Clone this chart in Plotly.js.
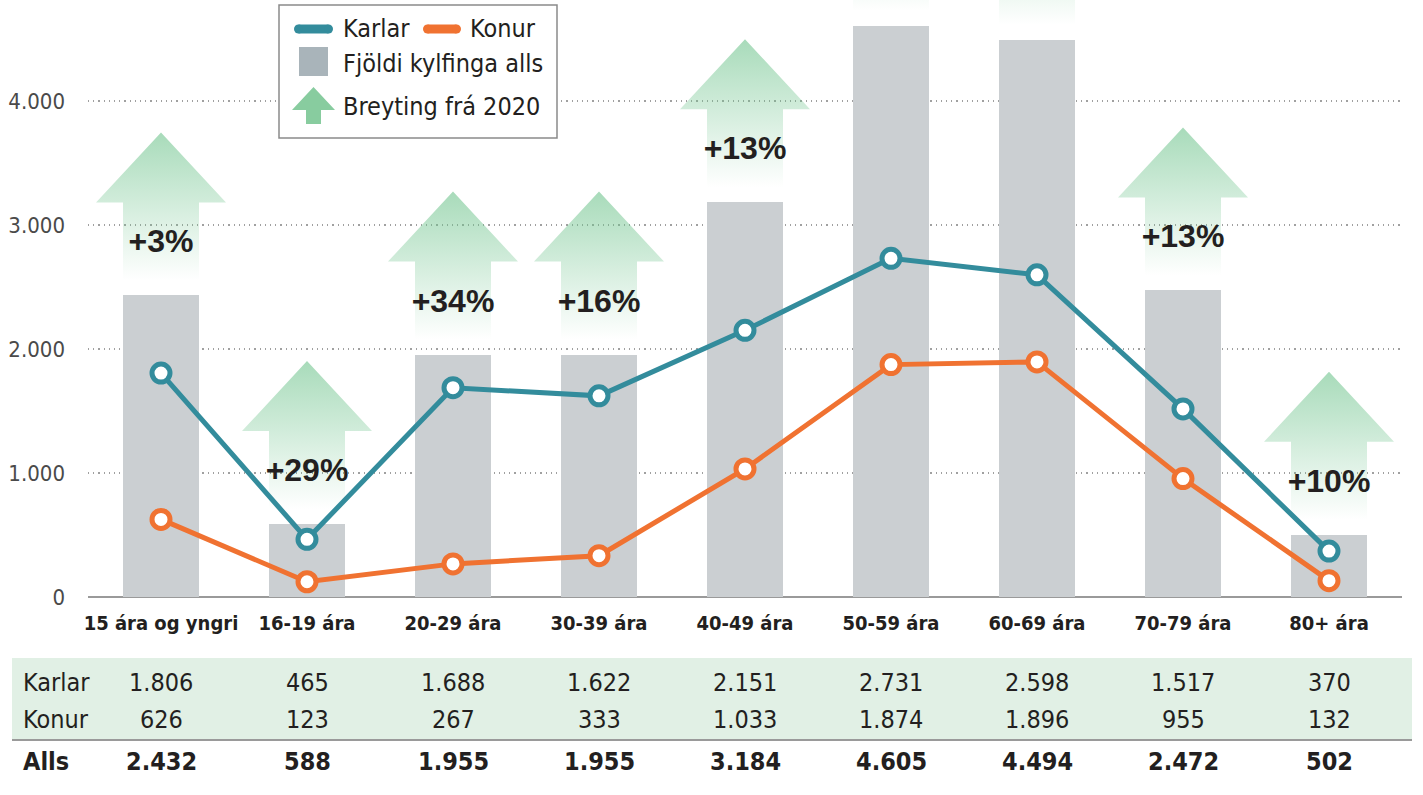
<!DOCTYPE html>
<html>
<head>
<meta charset="utf-8">
<script src="https://cdn.plot.ly/plotly-3.0.1.min.js"></script>
<style>
  html, body { margin: 0; padding: 0; background: #ffffff; }
  #chart { width: 1423px; height: 795px; }
</style>
</head>
<body>
<div id="chart"></div>
<script>
// ---------------- data ----------------
const categories = ['15 ára og yngri', '16-19 ára', '20-29 ára', '30-39 ára', '40-49 ára', '50-59 ára', '60-69 ára', '70-79 ára', '80+ ára'];
const karlar = [1806, 465, 1688, 1622, 2151, 2731, 2598, 1517, 370];
const konur  = [626, 123, 267, 333, 1033, 1874, 1896, 955, 132];
const alls   = [2432, 588, 1955, 1955, 3184, 4605, 4494, 2472, 502];
const breyting = ['+3%', '+29%', '+34%', '+16%', '+13%', '', '', '+13%', '+10%'];
const yTickVals = [0, 1000, 2000, 3000, 4000];
const yTickText = ['0', '1.000', '2.000', '3.000', '4.000'];
const rowLabels = ['Karlar', 'Konur', 'Alls'];
const legendLabels = ['Karlar', 'Konur', 'Fjöldi kylfinga alls', 'Breyting frá 2020'];

// ---------------- styling / geometry ----------------
const W = 1423, H = 795;
const PL = 88, PR = 1402, PB = 597;           // plot area in px
const PX_PER_1000 = 124;
const YMAX = PB * 1000 / PX_PER_1000;
const U = 1000 / PX_PER_1000;                  // data units per px (y)
const XU = 1 / ((PR - PL) / categories.length); // data units per px (x)
const NARROW = '"DejaVu Sans Condensed", "Liberation Sans Narrow", "Liberation Sans", sans-serif';
const WIDE = '"Liberation Sans", "DejaVu Sans", sans-serif';
const TEAL = '#338c9c', ORANGE = '#f07231', BARGRAY = '#cbcfd2', TXT = '#231f20';

const px2paperX = px => (px - PL) / (PR - PL);
const px2paperY = py => (PB - py) / PB;
const fmt = n => String(n).replace(/\B(?=(\d{3})+(?!\d))/g, '.');

const xIdx = categories.map((c, i) => i);

const traces = [];

// bars
traces.push({
  type: 'bar', x: xIdx, y: alls, width: 0.52,
  marker: { color: BARGRAY, line: { width: 0 } },
  hoverinfo: 'skip', showlegend: false
});

// arrows (gradient)
alls.forEach((v, i) => {
  const tip = v + 163 * U, base = v + 93 * U, bot = v + 15 * U;
  const hw = 65 * XU, sw = 38 * XU;
  traces.push({
    type: 'scatter', mode: 'lines',
    x: [i - sw, i - sw, i - hw, i, i + hw, i + sw, i + sw, i - sw],
    y: [bot, base, base, tip, base, base, bot, bot],
    fill: 'toself',
    fillgradient: {
      type: 'vertical',
      start: bot, stop: tip,
      colorscale: [[0, 'rgba(110,195,140,0)'], [1, 'rgba(110,195,140,0.6)']]
    },
    line: { width: 0, color: 'rgba(0,0,0,0)' },
    hoverinfo: 'skip', showlegend: false
  });
});

// percentage labels
traces.push({
  type: 'scatter', mode: 'text',
  x: xIdx, y: alls.map(v => v + 51 * U), text: breyting,
  textposition: 'middle center',
  textfont: { family: WIDE, size: 32, color: TXT, weight: 'bold' },
  hoverinfo: 'skip', showlegend: false
});

// lines
[[konur, ORANGE], [karlar, TEAL]].forEach(([vals, col]) => {
  traces.push({
    type: 'scatter', mode: 'lines+markers', x: xIdx, y: vals,
    line: { color: col, width: 5 },
    marker: { symbol: 'circle', size: 18, color: '#ffffff', line: { color: col, width: 5 } },
    cliponaxis: false,
    hoverinfo: 'skip', showlegend: false
  });
});

// ---------------- shapes & annotations ----------------
const shapes = [];
const annotations = [];

// table band and rule
shapes.push({ type: 'rect', xref: 'paper', yref: 'paper', layer: 'below',
  x0: px2paperX(12), x1: px2paperX(1412), y0: px2paperY(658), y1: px2paperY(739),
  fillcolor: '#e1f0e5', line: { width: 0 } });
shapes.push({ type: 'line', xref: 'paper', yref: 'paper',
  x0: px2paperX(12), x1: px2paperX(1412), y0: px2paperY(740), y1: px2paperY(740),
  line: { color: '#9a9a9a', width: 2 } });

const rowY = [682, 720, 761];
rowLabels.forEach((lab, r) => {
  annotations.push({ xref: 'paper', yref: 'paper', x: px2paperX(21), y: px2paperY(rowY[r]),
    xanchor: 'left', yanchor: 'middle', showarrow: false, text: lab,
    font: { family: NARROW, size: 25, color: TXT, weight: r === 2 ? 'bold' : 'normal' } });
});
[karlar, konur, alls].forEach((arr, r) => {
  arr.forEach((v, i) => {
    annotations.push({ xref: 'x', yref: 'paper', x: i, y: px2paperY(rowY[r]),
      xanchor: 'center', yanchor: 'middle', showarrow: false, text: fmt(v),
      font: { family: NARROW, size: 25, color: TXT, weight: r === 2 ? 'bold' : 'normal' } });
  });
});

// legend box
shapes.push({ type: 'rect', xref: 'paper', yref: 'paper', layer: 'above',
  x0: px2paperX(279), x1: px2paperX(557), y0: px2paperY(138), y1: px2paperY(5),
  fillcolor: '#ffffff', line: { color: '#8a8a8a', width: 1.5 } });
function pill(x0, x1, yc, col) {
  const r = 4.5;
  shapes.push({ type: 'rect', xref: 'paper', yref: 'paper', layer: 'above',
    x0: px2paperX(x0 + r), x1: px2paperX(x1 - r), y0: px2paperY(yc + r), y1: px2paperY(yc - r),
    fillcolor: col, line: { width: 0 } });
  [x0 + r, x1 - r].forEach(cx => shapes.push({ type: 'circle', xref: 'paper', yref: 'paper', layer: 'above',
    x0: px2paperX(cx - r), x1: px2paperX(cx + r), y0: px2paperY(yc + r), y1: px2paperY(yc - r),
    fillcolor: col, line: { width: 0 } }));
}
pill(294, 333, 29, TEAL);
pill(423, 461, 29, ORANGE);
shapes.push({ type: 'rect', xref: 'paper', yref: 'paper', layer: 'above',
  x0: px2paperX(299), x1: px2paperX(328), y0: px2paperY(76), y1: px2paperY(47),
  fillcolor: '#a9b4ba', line: { width: 0 } });
{
  const P = (x, y) => px2paperX(x) + ',' + px2paperY(y);
  shapes.push({ type: 'path', xref: 'paper', yref: 'paper', layer: 'above',
    path: 'M' + P(313.5, 87) + 'L' + P(335, 110) + 'L' + P(321, 110) + 'L' + P(321, 124) +
          'L' + P(306, 124) + 'L' + P(306, 110) + 'L' + P(292, 110) + 'Z',
    fillcolor: '#88cc9f', line: { width: 0 } });
}
const legPos = [[341, 29], [468, 29], [341, 64], [341, 107]];
legendLabels.forEach((t, k) => {
  annotations.push({ xref: 'paper', yref: 'paper', x: px2paperX(legPos[k][0]), y: px2paperY(legPos[k][1]),
    xanchor: 'left', yanchor: 'middle', showarrow: false, text: t,
    font: { family: NARROW, size: 25, color: TXT } });
});

const layout = {
  width: W, height: H,
  margin: { l: PL, r: W - PR, t: 0, b: H - PB, pad: 0 },
  paper_bgcolor: '#ffffff', plot_bgcolor: '#ffffff',
  showlegend: false,
  bargap: 0,
  xaxis: {
    range: [-0.5, categories.length - 0.5],
    tickvals: xIdx, ticktext: categories,
    tickangle: 0,
    showgrid: false, zeroline: false, showline: false, ticks: '',
    ticklabelstandoff: 12,
    tickfont: { family: NARROW, size: 20, color: TXT, weight: 'bold' },
    fixedrange: true
  },
  yaxis: {
    range: [0, YMAX],
    tickvals: yTickVals, ticktext: yTickText,
    showgrid: true, gridcolor: '#a0a0a0', gridwidth: 1.2, griddash: '1.2px,4px',
    zeroline: true, zerolinecolor: '#9a9a9a', zerolinewidth: 2,
    showline: false, ticks: '',
    ticklabelstandoff: 22,
    tickfont: { family: NARROW, size: 22, color: '#4a4a4a' },
    fixedrange: true
  },
  shapes: shapes,
  annotations: annotations
};

Plotly.newPlot('chart', traces, layout, { displayModeBar: false, staticPlot: true });
</script>
</body>
</html>
